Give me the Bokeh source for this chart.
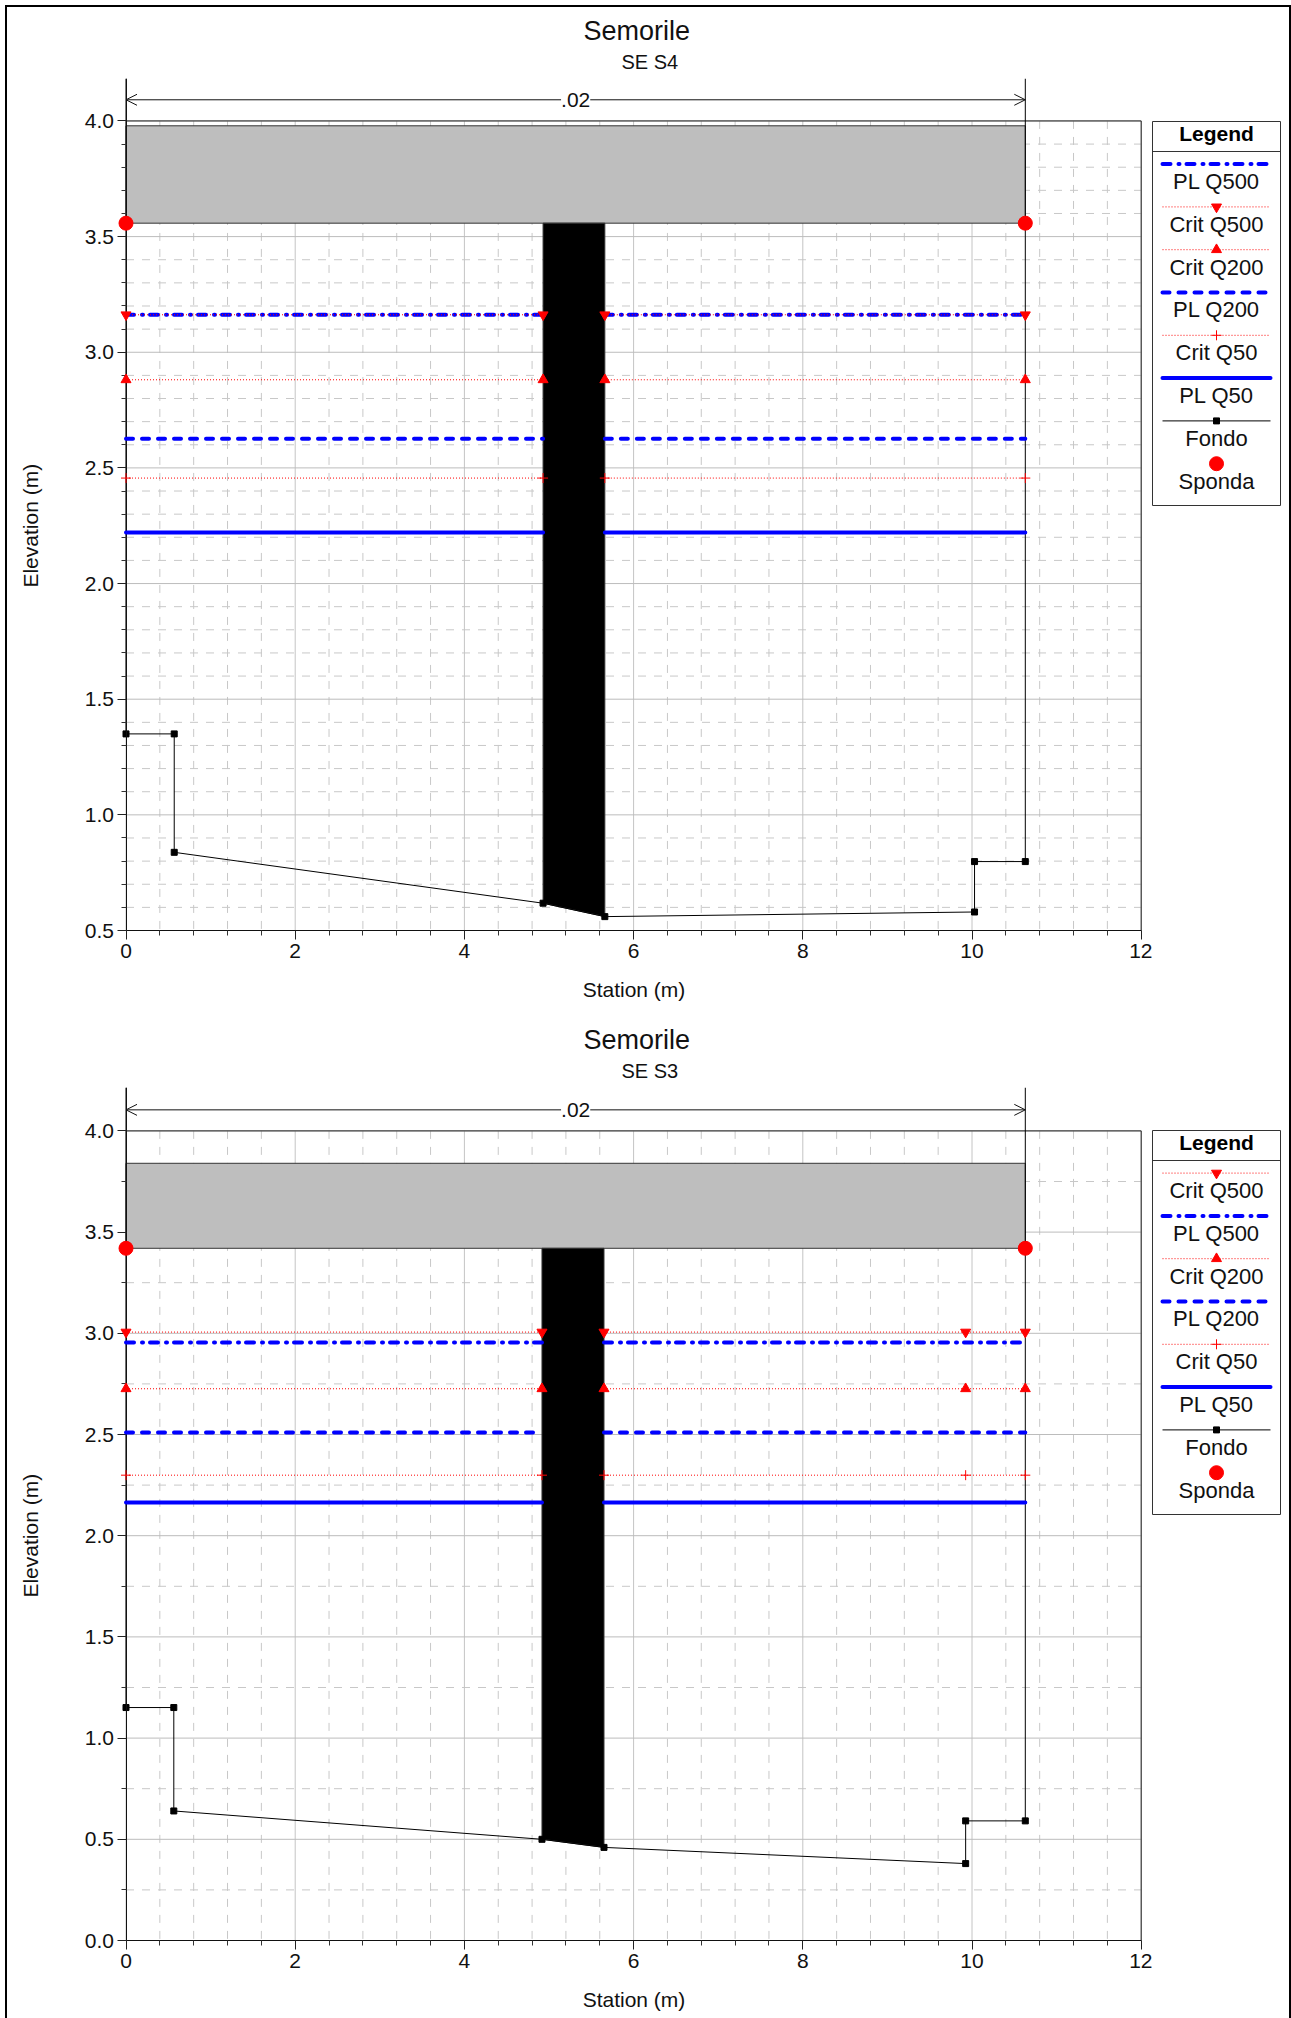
from bokeh.plotting import figure
from bokeh.layouts import row, column
from bokeh.models import (Range1d, FixedTicker, Title, Label, Arrow, OpenHead,
                          NumeralTickFormatter, LinearAxis)
from bokeh.core.properties import value
from bokeh.embed import file_html
from bokeh.resources import INLINE
import math

FONT = "Liberation Sans"
NAN = float("nan")

# ---- shared data
x_major = [0, 2, 4, 6, 8, 10, 12]
x_minor = [0.4, 0.8, 1.2, 1.6, 2.4, 2.8, 3.2, 3.6, 4.4, 4.8, 5.2, 5.6, 6.4, 6.8, 7.2, 7.6,
           8.4, 8.8, 9.2, 9.6, 10.4, 10.8, 11.2, 11.6]

# ---- section S4
s4_y_major = [0.5, 1.0, 1.5, 2.0, 2.5, 3.0, 3.5, 4.0]
s4_y_minor = [0.6, 0.7, 0.8, 0.9, 1.1, 1.2, 1.3, 1.4, 1.6, 1.7, 1.8, 1.9, 2.1, 2.2, 2.3, 2.4,
              2.6, 2.7, 2.8, 2.9, 3.1, 3.2, 3.3, 3.4, 3.6, 3.7, 3.8, 3.9]
s4_ground_x = [0, 0.57, 0.57, 4.93, 5.66, 10.03, 10.03, 10.63]
s4_ground_y = [1.35, 1.35, 0.838, 0.618, 0.56, 0.58, 0.798, 0.798]
s4_deck = (0, 10.63, 3.558, 3.979)
s4_pier_x = [4.93, 5.66]
s4_crit_x = [0, 4.93, 5.66, 10.63]
s4_pl500, s4_crit500 = 3.162, 3.162
s4_crit200, s4_pl200 = 2.881, 2.626
s4_crit50, s4_pl50 = 2.456, 2.221
s4_legend = ["PL Q500", "Crit Q500", "Crit Q200", "PL Q200", "Crit Q50", "PL Q50", "Fondo", "Sponda"]

# ---- section S3
s3_y_major = [0.0, 0.5, 1.0, 1.5, 2.0, 2.5, 3.0, 3.5, 4.0]
s3_y_minor = [0.25, 0.75, 1.25, 1.75, 2.25, 2.75, 3.25, 3.75]
s3_ground_x = [0, 0.565, 0.565, 4.917, 5.65, 9.925, 9.925, 10.63]
s3_ground_y = [1.151, 1.151, 0.64, 0.50, 0.46, 0.38, 0.591, 0.591]
s3_deck = (0, 10.63, 3.42, 3.84)
s3_pier_x = [4.917, 5.65]
s3_crit_x = [0, 4.917, 5.65, 9.925, 10.63]
s3_crit500, s3_pl500 = 3.006, 2.955
s3_crit200, s3_pl200 = 2.726, 2.51
s3_crit50, s3_pl50 = 2.299, 2.164
s3_legend = ["Crit Q500", "PL Q500", "Crit Q200", "PL Q200", "Crit Q50", "PL Q50", "Fondo", "Sponda"]

DASHDOT = "8 8 1 7"
DASHED = "7 9"
MARK = {"Crit Q500": "inverted_triangle", "Crit Q200": "triangle", "Crit Q50": "cross"}
MSIZE = {"Crit Q500": 10, "Crit Q200": 10, "Crit Q50": 10}
PLDASH = {"PL Q500": DASHDOT, "PL Q200": DASHED, "PL Q50": "solid"}


def chart(subtitle, y_major, y_minor, y0, yscale, ftop, fheight, fbottom, ground_x, ground_y,
          deck, pier_x, crit_x, levels, arrow_y):
    ytop = y0 + fheight / yscale
    xs = 84.6
    p = figure(width=1145, height=ftop + fheight + fbottom, output_backend="svg", toolbar_location=None,
               x_range=Range1d(-118.5 / xs, -118.5 / xs + 1145 / xs),
               y_range=Range1d(y0 - fbottom / yscale, ytop),
               min_border_left=0, min_border_right=0, min_border_top=ftop, min_border_bottom=0,
               outline_line_color=None, tools="", frame_align=False)
    p.xaxis.visible = False
    p.yaxis.visible = False
    p.grid.visible = False

    # axes
    xa = LinearAxis(ticker=FixedTicker(ticks=x_major, minor_ticks=x_minor), bounds=(0, 12),
                    axis_label="Station (m)", formatter=NumeralTickFormatter(format="0"), fixed_location=y0)
    ya = LinearAxis(ticker=FixedTicker(ticks=y_major, minor_ticks=y_minor), bounds=(y0, ytop),
                    formatter=NumeralTickFormatter(format="0.0"), fixed_location=0)
    for a in (xa, ya):
        a.major_label_text_font = FONT
        a.major_label_text_font_size = "21px"
        a.major_label_text_color = "#111111"
        a.major_tick_out = 9
        a.major_tick_in = 0
        a.minor_tick_out = 5
        a.minor_tick_in = 0
        a.axis_line_color = "#111111"
        a.major_tick_line_color = "#222222"
        a.minor_tick_line_color = "#333333"
    xa.major_label_standoff = 4
    ya.major_label_standoff = 3
    xa.axis_label_text_font = FONT
    xa.axis_label_text_font_size = "21px"
    xa.axis_label_text_font_style = "normal"
    xa.axis_label_text_color = "#111111"
    xa.axis_label_standoff = 17
    p.add_layout(xa, "below")
    p.add_layout(ya, "left")

    # y axis title
    p.add_layout(Label(x=23, x_units="screen", y=(y0 + 4.0) / 2, y_units="data", text="Elevation (m)",
                       angle=math.pi / 2, text_align="center", text_baseline="middle",
                       text_font=FONT, text_font_size="21px", text_color="#111111"))

    # titles
    p.title = Title(text="Semorile", align="left", offset=576, text_font=FONT, text_font_size="27px",
                    text_font_style="normal", text_color="#111111", standoff=2)
    p.add_layout(Title(text=subtitle, align="left", offset=614, vertical_align="top", text_font=FONT,
                       text_font_size="20px", text_font_style="normal", text_color="#111111", standoff=8), "above")

    # grid drawn from the tick lists, dashes start at the top and at the left
    minor_y = [v for v in y_minor]
    p.segment(x_minor, [4.0] * len(x_minor), x_minor, [y0] * len(x_minor), line_color="#c8c8c8",
              line_width=1, line_dash="8 8", level="underlay")
    p.segment([0] * len(minor_y), minor_y, [12] * len(minor_y), minor_y, line_color="#c8c8c8",
              line_width=1, line_dash="8 8", level="underlay")
    p.segment(x_major, [y0] * len(x_major), x_major, [4.0] * len(x_major), line_color="#c4c4c4",
              line_width=1, level="underlay")
    p.segment([0] * len(y_major), y_major, [12] * len(y_major), y_major, line_color="#bcbcbc",
              line_width=1, level="underlay")
    # frame top and right
    p.line([0, 12, 12], [4.0, 4.0, y0], line_color="#222222", line_width=1, level="underlay")

    # deck and pier
    left, right, low, high = deck
    p.quad(left=[left], right=[right], bottom=[low], top=[high], fill_color="#bebebe", line_color="#333333",
           line_width=1)
    gp = [ground_y[ground_x.index(pier_x[0])], ground_y[ground_x.index(pier_x[1])]]
    p.patch([pier_x[0], pier_x[1], pier_x[1], pier_x[0]], [low, low, gp[1], gp[0]], fill_color="black",
            line_color="#333333", line_width=1)

    # ground and wall extensions
    p.line([ground_x[0]] + ground_x + [ground_x[-1]], [ytop] + ground_y + [ytop], line_color="black", line_width=1)
    p.scatter(ground_x, ground_y, marker="square", size=6, color="black")

    # water surfaces and critical depths
    for name, lev in levels:
        x_line = [0, pier_x[0], NAN, pier_x[1], right]
        y_line = [lev, lev, NAN, lev, lev]
        if name.startswith("PL"):
            p.line(x_line, y_line, line_color="#0000ff", line_width=4, line_cap="round",
                   line_dash=PLDASH[name], level="annotation")
    for name, lev in levels:
        x_line = [0, pier_x[0], NAN, pier_x[1], right]
        y_line = [lev, lev, NAN, lev, lev]
        if name.startswith("Crit"):
            p.line(x_line, y_line, line_color="#ff0000", line_width=1, line_dash="1 2", level="annotation")
            p.scatter(crit_x, [lev] * len(crit_x), marker=MARK[name], size=MSIZE[name], line_color="#ff0000",
                      fill_color="#ff0000", line_width=1, level="annotation")

    # bank stations
    p.scatter([left, right], [low, low], marker="circle", size=14, color="#ff0000", level="annotation")

    # dimension arrow
    head = dict(size=11, line_color="#111111", line_width=1)
    p.add_layout(Arrow(x_start=left, y_start=arrow_y, x_end=right, y_end=arrow_y, start=OpenHead(**head),
                       end=OpenHead(**head), line_color="#111111", line_width=1))
    p.add_layout(Label(x=(left + right) / 2, y=arrow_y, text=".02", text_align="center", text_baseline="middle",
                       text_font=FONT, text_font_size="21px", text_color="#111111",
                       background_fill_color="white"))
    return p


def legend(names, ftop, total):
    hgt = 384
    p = figure(width=137, height=total, output_backend="svg", toolbar_location=None,
               x_range=Range1d(0, 128), y_range=Range1d(hgt, 0), min_border_left=0, min_border_right=9,
               min_border_top=ftop, min_border_bottom=total - ftop - hgt, outline_line_color="#333333",
               outline_line_width=1, tools="", frame_align=False)
    p.xaxis.visible = False
    p.yaxis.visible = False
    p.grid.visible = False
    p.line([0, 128], [30, 30], line_color="#333333", line_width=1)
    p.text([64], [12], text=["Legend"], text_align="center", text_baseline="middle", text_font=value(FONT),
           text_font_size="21px", text_font_style="bold", text_color="black")
    for i, name in enumerate(names):
        yl = 42.6 + 42.8 * i
        yt = 60 + 42.8 * i
        if name.startswith("PL"):
            p.line([10, 118], [yl, yl], line_color="#0000ff", line_width=4, line_cap="round", line_dash=PLDASH[name])
        elif name.startswith("Crit"):
            p.line([10, 117], [yl, yl], line_color="#ff0000", line_width=1, line_dash="1 2")
            p.scatter([64], [yl], marker=MARK[name], size=MSIZE[name], line_color="#ff0000", fill_color="#ff0000")
        elif name == "Fondo":
            p.line([10, 118], [yl, yl], line_color="black", line_width=1)
            p.scatter([64], [yl], marker="square", size=6, color="black")
        else:
            p.scatter([64], [yl], marker="circle", size=14, color="#ff0000")
        p.text([64], [yt], text=[name], text_align="center", text_baseline="middle", text_font=value(FONT),
               text_font_size="22px", text_color="#111111")
    return p


p1 = chart("SE S4", s4_y_major, s4_y_minor, 0.5, 231.3, 71, 852, 79, s4_ground_x, s4_ground_y, s4_deck,
           s4_pier_x, s4_crit_x,
           [("PL Q500", s4_pl500), ("PL Q200", s4_pl200), ("PL Q50", s4_pl50),
            ("Crit Q500", s4_crit500), ("Crit Q200", s4_crit200), ("Crit Q50", s4_crit50)], 4.0915)
p2 = chart("SE S3", s3_y_major, s3_y_minor, 0.0, 202.4, 78, 853, 78, s3_ground_x, s3_ground_y, s3_deck,
           s3_pier_x, s3_crit_x,
           [("PL Q500", s3_pl500), ("PL Q200", s3_pl200), ("PL Q50", s3_pl50),
            ("Crit Q500", s3_crit500), ("Crit Q200", s3_crit200), ("Crit Q50", s3_crit50)], 4.104)
l1 = legend(s4_legend, 114, 1002)
l2 = legend(s3_legend, 121, 1009)

page = column(row(p1, l1, spacing=0), row(p2, l2, spacing=0), spacing=0,
              margin=(5, 0, 0, 5),
              styles={"border-top": "2px solid black", "border-left": "2px solid black",
                      "border-right": "2px solid black", "box-sizing": "content-box", "background": "white"})

open("out.html", "w").write(file_html(page, INLINE))
